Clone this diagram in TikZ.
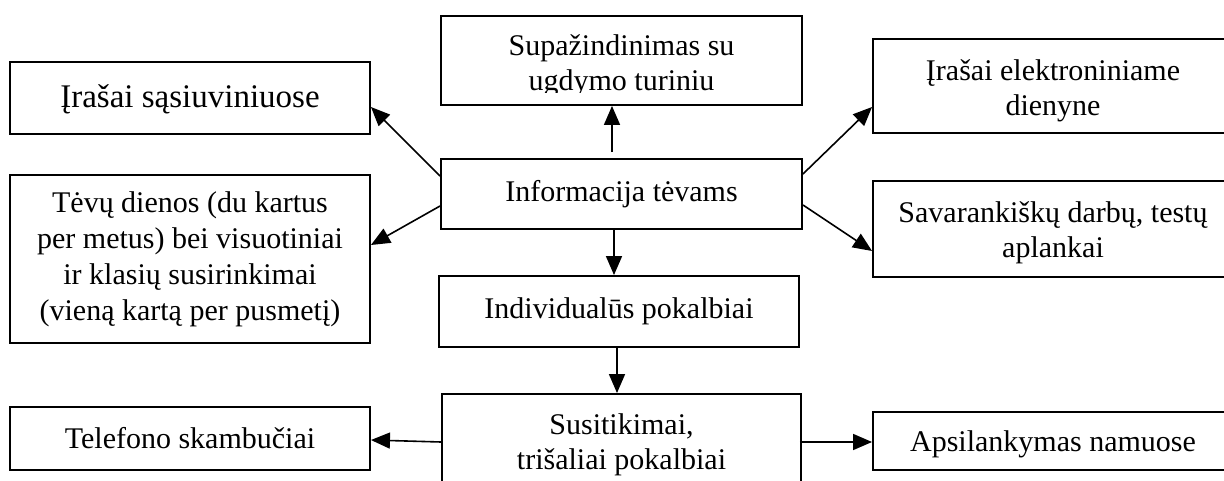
\documentclass[tikz,border=0pt]{standalone}
\usepackage{fontspec}
\setmainfont{Liberation Serif}
\usetikzlibrary{arrows.meta}
\begin{document}
\begin{tikzpicture}[x=1pt,y=-1pt,
  box/.style={draw=black, line width=1.9pt, inner sep=0pt, fill=white},
  txt/.style={inner sep=0pt, align=center, font=\fontsize{30}{35}\selectfont},
  arr/.style={line width=1.6pt, -{Triangle[length=19pt,width=16pt]}}]
\useasboundingbox (0,0) rectangle (1224,481);
\clip (0,0) rectangle (1224,481);
% boxes
\node[box, minimum width=360pt, minimum height=72pt]  (b1)   at (190,98)    {};
\node[box, minimum width=360pt, minimum height=168pt] (b2)   at (190,259)   {};
\node[box, minimum width=360pt, minimum height=63pt]  (b3)   at (190,438.5) {};
\node[box, minimum width=361pt, minimum height=89pt]  (top)  at (621.5,60.5) {};
\node[box, minimum width=361pt, minimum height=70pt]  (info) at (621.5,194) {};
\node[box, minimum width=360pt, minimum height=71pt]  (ind)  at (619,311.5) {};
\node[box, minimum width=359pt, minimum height=101pt] (sus)  at (621.5,444.5) {};
\node[box, minimum width=360pt, minimum height=94pt]  (r1)   at (1053,86)   {};
\node[box, minimum width=360pt, minimum height=96pt]  (r2)   at (1053,229)  {};
\node[box, minimum width=360pt, minimum height=58pt]  (r3)   at (1053,441)  {};
% texts
\node[txt, font=\fontsize{33}{38}\selectfont] (t1) at ([yshift=-1.4pt]b1.center) {Įrašai sąsiuviniuose};
\node[txt, font=\fontsize{30}{36}\selectfont] (t2) at (b2.center) {Tėvų dienos (du kartus\\per metus) bei visuotiniai\\ir klasių susirinkimai\\(vieną kartą per pusmetį)};
\node[txt] (t3) at (b3.center) {Telefono skambučiai};
\begin{scope}
\clip (top.north west) rectangle ([yshift=13pt]top.south east);
\node[txt] (ttop) at ([yshift=-5pt]top.center) {Supažindinimas su\\ugdymo turiniu};
\end{scope}
\node[txt] (tinfo) at (info.center) {Informacija tėvams};
\node[txt] (tind) at (ind.center) {Individualūs pokalbiai};
\node[txt] (tsus) at (sus.center) {Susitikimai,\\trišaliai pokalbiai};
\node[txt] (tr1) at ([yshift=-4.5pt]r1.center) {Įrašai elektroniniame\\dienyne};
\node[txt] (tr2) at ([yshift=-3.5pt]r2.center) {Savarankiškų darbų, testų\\aplankai};
\node[txt] (tr3) at ([yshift=-3.7pt]r3.center) {Apsilankymas namuose};
% arrows
\draw[arr] ([yshift=18pt]info.west) -- ([yshift=-9pt]b1.east);
\draw[arr] ([yshift=-12pt]info.west) -- ([yshift=14pt]b2.east);
\draw[arr] ([xshift=-9.5pt,yshift=6pt]info.north) -- ([xshift=-9.5pt]top.south);
\draw[arr] ([yshift=20pt]info.east) -- ([yshift=-21pt]r1.west);
\draw[arr] ([yshift=-11pt]info.east) -- ([yshift=-22pt]r2.west);
\draw[arr] ([xshift=-7.5pt]info.south) -- ([xshift=-5pt]ind.north);
\draw[arr] ([xshift=-2pt]ind.south) -- ([xshift=-4.5pt]sus.north);
\draw[arr] ([yshift=2.5pt]sus.west) -- ([yshift=-1.5pt]b3.east);
\draw[arr] ([xshift=-2pt,yshift=2.5pt]sus.east) -- ([yshift=-1pt]r3.west);
\end{tikzpicture}
\end{document}
